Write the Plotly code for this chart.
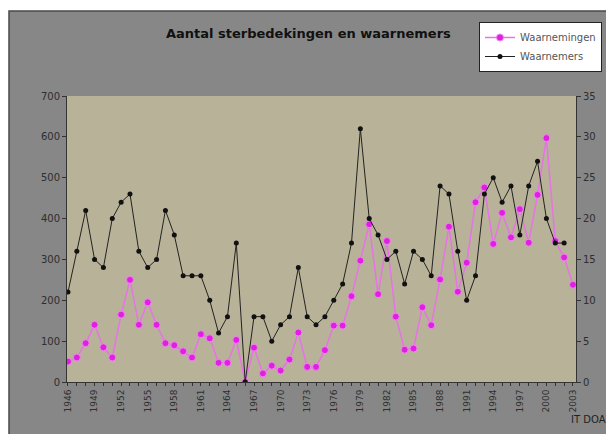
import plotly.graph_objects as go

# jaren 1946 - 2003
jaren = list(range(1946, 2004))

waarnemingen = [50, 60, 95, 140, 85, 60, 165, 250, 140, 195,
                140, 95, 90, 75, 60, 117, 107, 47, 47, 103,
                0, 84, 21, 40, 28, 55, 121, 37, 37, 78,
                138, 138, 210, 297, 386, 215, 345, 160, 79, 82,
                183, 139, 251, 380, 221, 292, 440, 476, 338, 414,
                354, 423, 341, 458, 597, 345, 305, 238]

waarnemers = [11, 16, 21, 15, 14, 20, 22, 23, 16, 14,
              15, 21, 18, 13, 13, 13, 10, 6, 8, 17,
              0, 8, 8, 5, 7, 8, 14, 8, 7, 8,
              10, 12, 17, 31, 20, 18, 15, 16, 12, 16,
              15, 13, 24, 23, 16, 10, 13, 23, 25, 22,
              24, 18, 24, 27, 20, 17, 17, None]

tick_labels = [str(j) if (j - 1946) % 3 == 0 else "" for j in jaren]

FONT = "DejaVu Sans, sans-serif"
W, H = 614, 434
OFF = 8  # body-marge van de html-pagina
L, T = 67 - OFF, 96 - OFF
pw, ph = 509, 286
R, B = W - L - pw, H - T - ph

def px_x(sx):
    return (sx - OFF - L) / pw

def px_y(sy):
    return (T + ph - (sy - OFF)) / ph

fig = go.Figure()
fig.add_trace(go.Scatter(x=jaren, y=waarnemingen, name="Waarnemingen", mode="lines+markers",
                         line=dict(color="#e773e7", width=1.5),
                         marker=dict(color="#e020e0", size=7, line=dict(color="#ee88ee", width=1))))
fig.add_trace(go.Scatter(x=jaren, y=waarnemers, name="Waarnemers", mode="lines+markers", yaxis="y2",
                         line=dict(color="#222222", width=1),
                         marker=dict(color="#111111", size=5)))

# grijze kaderachtergrond en kaki plotvlak
fig.add_shape(type="rect", xref="paper", yref="paper", layer="below",
              x0=px_x(9), x1=px_x(640), y0=px_y(460), y1=px_y(11),
              fillcolor="#878787", line=dict(color="#4a4a4a", width=1.5))
fig.add_shape(type="rect", xref="paper", yref="paper", layer="below",
              x0=0, x1=1, y0=0, y1=1, fillcolor="#b8b298", line=dict(width=0))

fig.update_layout(
    width=W, height=H,
    margin=dict(l=L, r=R, t=T, b=B),
    paper_bgcolor="white", plot_bgcolor="rgba(0,0,0,0)",
    font=dict(family=FONT, size=10, color="#2e2e2e"),
    title=dict(text="<b>Aantal sterbedekingen en waarnemers</b>", x=px_x(316), xanchor="center",
               y=1 - (33 - OFF) / H, yanchor="middle", yref="container",
               font=dict(size=13, color="#111111")),
    showlegend=True,
    legend=dict(x=px_x(479), y=px_y(22), xanchor="left", yanchor="top",
                bgcolor="white", bordercolor="#222222", borderwidth=1,
                font=dict(size=10, color="#555555"), itemwidth=30,
                tracegroupgap=0),
    xaxis=dict(range=[1945.89, 2003.34], tickmode="array", tickvals=jaren, ticktext=tick_labels,
               tickangle=-90, ticks="outside", ticklen=3, tickcolor="#333333",
               showline=True, linecolor="#333333", linewidth=1, showgrid=False, zeroline=False,
               tickfont=dict(size=9)),
    yaxis=dict(range=[0, 700], dtick=100, ticks="outside", ticklen=4, tickcolor="#333333",
               showline=True, linecolor="#333333", linewidth=1, showgrid=False, zeroline=False),
    yaxis2=dict(range=[0, 35], dtick=5, overlaying="y", side="right", ticks="outside", ticklen=4,
                tickcolor="#333333", showline=True, linecolor="#333333", linewidth=1,
                showgrid=False, zeroline=False),
    annotations=[dict(text="IT DOA", xref="paper", yref="paper", x=px_x(588), y=px_y(419),
                      xanchor="center", yanchor="middle",
                      showarrow=False, font=dict(size=10, color="#222222"))],
)

fig.write_html("out.html")
